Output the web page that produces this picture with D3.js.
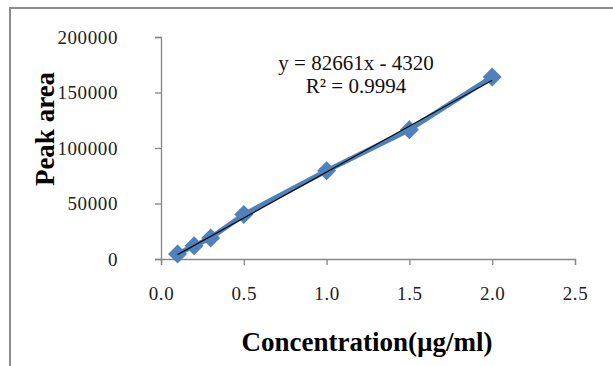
<!DOCTYPE html>
<html>
<head>
<meta charset="utf-8">
<script src="https://cdn.jsdelivr.net/npm/d3@7"></script>
<style>
  body { margin: 0; background: #fff; }
  svg { display: block; }
</style>
</head>
<body>
<svg></svg>
<script>
// data
var conc = [0.1, 0.2, 0.3, 0.5, 1.0, 1.5, 2.0];
var peak = [4500, 12000, 19000, 40000, 79500, 116500, 164000];
var xTicks = [0, 0.5, 1.0, 1.5, 2.0, 2.5];
var yTicks = [0, 50000, 100000, 150000, 200000];
var slope = 82661, intercept = -4320;

var svgWidth = 613, svgHeight = 366;

var svg = d3.select('svg')
    .attr("width", svgWidth)
    .attr("height", svgHeight);

// outer chart frame (right and bottom edge run off the image)
svg.append("rect")
    .attr("x", 10).attr("y", 8)
    .attr("width", 640).attr("height", 400)
    .attr("fill", "none")
    .attr("stroke", "#8c8c8c")
    .attr("stroke-width", 2);

// scales
var xScale = d3.scaleLinear()
    .domain([0, 2.5])
    .range([161, 575]);

var yScale = d3.scaleLinear()
    .domain([0, 200000])
    .range([259, 37]);

// axes
var x_axis = d3.axisBottom(xScale)
    .tickValues(xTicks)
    .tickSize(6)
    .tickPadding(22)
    .tickFormat(d3.format(".1f"));

var y_axis = d3.axisLeft(yScale)
    .tickValues(yTicks)
    .tickSize(6)
    .tickPadding(37)
    .tickFormat(d3.format("d"));

var gx = svg.append("g")
    .attr("transform", "translate(0," + yScale(0) + ")")
    .call(x_axis);

var gy = svg.append("g")
    .attr("transform", "translate(" + xScale(0) + ",0)")
    .call(y_axis);

[gx, gy].forEach(function(g) {
  g.select(".domain").attr("stroke", "#868686").attr("stroke-width", 1.3);
  g.selectAll(".tick line").attr("stroke", "#868686").attr("stroke-width", 1.3);
  g.selectAll(".tick text")
      .attr("fill", "#222")
      .style("font-family", "'Liberation Serif', serif")
      .style("font-size", "19px")
      .style("letter-spacing", "0.6px");
});

// data series: thick blue line with diamond markers
var pts = conc.map(function(c, i) { return [c, peak[i]]; });

var line = d3.line()
    .x(function(d) { return xScale(d[0]); })
    .y(function(d) { return yScale(d[1]); });

svg.append("path")
    .datum(pts)
    .attr("d", line)
    .attr("fill", "none")
    .attr("stroke", "#4f81bd")
    .attr("stroke-width", 5)
    .attr("stroke-linejoin", "round");

svg.selectAll(".marker")
    .data(pts)
    .enter().append("path")
    .attr("class", "marker")
    .attr("d", d3.symbol().type(d3.symbolDiamond2).size(230))
    .attr("transform", function(d) {
      return "translate(" + xScale(d[0]) + "," + yScale(d[1]) + ")";
    })
    .attr("fill", "#4f81bd");

// linear trendline
var tx = d3.extent(conc);
svg.append("path")
    .datum(tx.map(function(c) { return [c, slope * c + intercept]; }))
    .attr("d", line)
    .attr("fill", "none")
    .attr("stroke", "#111")
    .attr("stroke-width", 1.3);

// equation label
var eq = svg.append("text")
    .attr("text-anchor", "middle")
    .style("font-family", "'Liberation Serif', serif")
    .style("font-size", "21px")
    .attr("fill", "#111");
eq.append("tspan").attr("x", 356).attr("y", 70).text("y = 82661x - 4320");
eq.append("tspan").attr("x", 356).attr("y", 93).text("R² = 0.9994");

// axis titles
svg.append("text")
    .attr("x", 367).attr("y", 351)
    .attr("text-anchor", "middle")
    .style("font-family", "'Liberation Serif', serif")
    .style("font-weight", "bold")
    .style("font-size", "27px")
    .text("Concentration(µg/ml)");

svg.append("text")
    .attr("transform", "translate(54,129) rotate(-90)")
    .attr("text-anchor", "middle")
    .style("font-family", "'Liberation Serif', serif")
    .style("font-weight", "bold")
    .style("font-size", "27px")
    .text("Peak  area");
</script>
</body>
</html>
